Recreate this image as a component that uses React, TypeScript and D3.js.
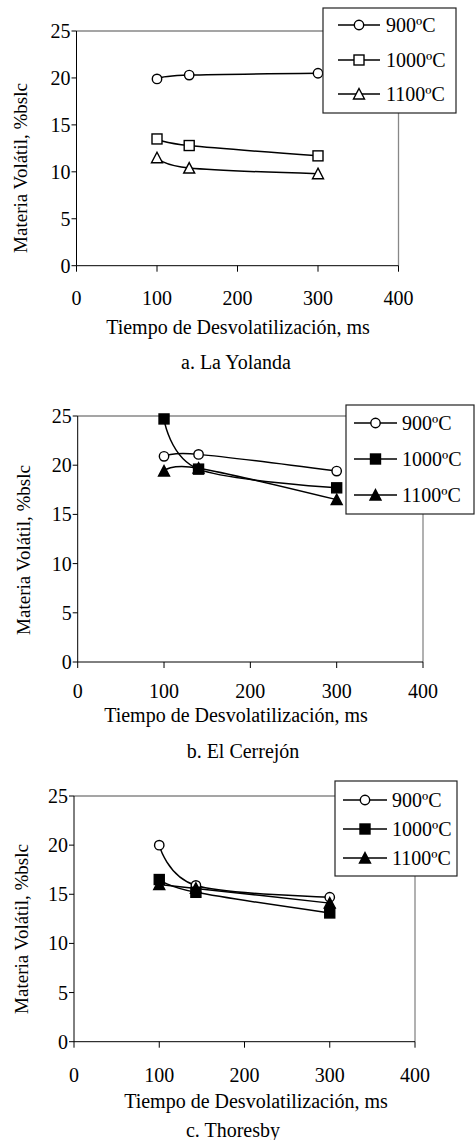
import React from "react";
import * as d3 from "d3";

// tiempos de desvolatilización (ms)
const times = [100, 140, 300];
const timesThoresby = [100, 143, 300];
const temps = ["900ºC", "1000ºC", "1100ºC"];

// materia volátil, %bslc
const yolanda900 = [19.9, 20.3, 20.5];
const yolanda1000 = [13.5, 12.8, 11.7];
const yolanda1100 = [11.5, 10.4, 9.8];
const cerrejon900 = [20.9, 21.1, 19.4];
const cerrejon1000 = [24.7, 19.6, 17.7];
const cerrejon1100 = [19.4, 19.7, 16.5];
const thoresby900 = [20.0, 15.9, 14.7];
const thoresby1000 = [16.5, 15.2, 13.1];
const thoresby1100 = [16.0, 15.6, 14.1];

const xTicks = [0, 100, 200, 300, 400];
const yTicks = [0, 5, 10, 15, 20, 25];
const xLabel = "Tiempo de Desvolatilización, ms";
const yLabel = "Materia Volátil, %bslc";

const FONT = "'Liberation Serif', 'Times New Roman', serif";

const panels = [
  {
    title: "a. La Yolanda", x: times, series: [yolanda900, yolanda1000, yolanda1100], filled: false,
    left: 76.5, right: 398.5, top: 31, bottom: 265.7,
    tickY: 305, labelY: 334, labelX: 238, titleY: 369, titleX: 236, yLabelX: 27, yLabelY: 168,
    legend: { x: 323, y: 8, w: 133, h: 105, rows: [25, 60, 94], lx0: 338, lx1: 380, tx: 386 },
  },
  {
    title: "b. El Cerrejón", x: times, series: [cerrejon900, cerrejon1000, cerrejon1100], filled: true,
    left: 77.7, right: 423, top: 416, bottom: 662,
    tickY: 698, labelY: 722, labelX: 236, titleY: 758, titleX: 243, yLabelX: 30, yLabelY: 550,
    legend: { x: 346, y: 405, w: 128, h: 109, rows: [423, 459, 495], lx0: 354, lx1: 397, tx: 402 },
  },
  {
    title: "c. Thoresby", x: timesThoresby, series: [thoresby900, thoresby1000, thoresby1100], filled: true,
    left: 74, right: 415, top: 796, bottom: 1041.7,
    tickY: 1082, labelY: 1108, labelX: 256, titleY: 1137, titleX: 233, yLabelX: 28, yLabelY: 929,
    legend: { x: 335, y: 781, w: 122, h: 95, rows: [800, 829, 858], lx0: 343, lx1: 387, tx: 392 },
  },
];

const Marker = ({ kind, filled, x, y }: { kind: number; filled: boolean; x: number; y: number }) => {
  const fill = filled && kind > 0 ? "#000" : "#fff";
  const common = { fill, stroke: "#000", strokeWidth: 1.4 };
  if (kind === 0) return <circle cx={x} cy={y} r={4.7} {...common} />;
  if (kind === 1) return <rect x={x - 5} y={y - 5} width={10} height={10} {...common} />;
  return <path d={`M${x},${y - 5.5}L${x + 5.5},${y + 5}L${x - 5.5},${y + 5}Z`} {...common} />;
};

const Panel = ({ p }: { p: (typeof panels)[number] }) => {
  const xs = d3.scaleLinear().domain([0, 400]).range([p.left, p.right]);
  const ys = d3.scaleLinear().domain([0, 25]).range([p.bottom, p.top]);
  const line = d3
    .line<number>()
    .x((_, i) => xs(p.x[i]))
    .y((d) => ys(d))
    .curve(d3.curveCardinal.tension(0));
  const lg = p.legend;

  return (
    <g>
      {/* marco */}
      <path
        d={`M${p.left},${p.top}H${p.right}V${p.bottom}`}
        fill="none"
        stroke="#888"
        strokeWidth={1.3}
      />
      <line x1={p.left} x2={p.left} y1={p.top} y2={p.bottom} stroke="#000" />
      <line x1={p.left} x2={p.right} y1={p.bottom} y2={p.bottom} stroke="#000" />
      {yTicks.map((t) => (
        <g key={t}>
          <line x1={p.left - 5} x2={p.left} y1={ys(t)} y2={ys(t)} stroke="#000" />
          <text x={p.left - 6} y={ys(t)} dy="0.35em" textAnchor="end" fontSize={20}>
            {t}
          </text>
        </g>
      ))}
      {xTicks.map((t) => (
        <g key={t}>
          <line x1={xs(t)} x2={xs(t)} y1={p.bottom} y2={p.bottom + 6} stroke="#000" />
          <text x={xs(t)} y={p.tickY} textAnchor="middle" fontSize={20}>
            {t}
          </text>
        </g>
      ))}
      <text x={p.labelX} y={p.labelY} textAnchor="middle" fontSize={20}>
        {xLabel}
      </text>
      <text x={p.titleX} y={p.titleY} textAnchor="middle" fontSize={20}>
        {p.title}
      </text>
      <text
        transform={`translate(${p.yLabelX},${p.yLabelY}) rotate(-90)`}
        textAnchor="middle"
        fontSize={19}
      >
        {yLabel}
      </text>

      {p.series.map((s, k) => (
        <path key={k} d={line(s) || ""} fill="none" stroke="#000" strokeWidth={1.5} />
      ))}
      {p.series.map((s, k) =>
        s.map((v, i) => <Marker key={`${k}-${i}`} kind={k} filled={p.filled} x={xs(p.x[i])} y={ys(v)} />)
      )}

      {/* leyenda */}
      <rect x={lg.x} y={lg.y} width={lg.w} height={lg.h} fill="#fff" stroke="#222" strokeWidth={1.2} />
      {temps.map((name, k) => (
        <g key={name}>
          <line x1={lg.lx0} x2={lg.lx1} y1={lg.rows[k]} y2={lg.rows[k]} stroke="#000" strokeWidth={1.5} />
          <Marker kind={k} filled={p.filled} x={(lg.lx0 + lg.lx1) / 2} y={lg.rows[k]} />
          <text x={lg.tx} y={lg.rows[k]} dy="0.35em" fontSize={20}>
            {name}
          </text>
        </g>
      ))}
    </g>
  );
};

export default function App() {
  return (
    <svg
      width={475}
      height={1140}
      style={{ position: "absolute", left: 0, top: 0, background: "#fff" }}
      fontFamily={FONT}
      fill="#000"
    >
      <rect width={475} height={1140} fill="#fff" />
      {panels.map((p) => (
        <Panel key={p.title} p={p} />
      ))}
    </svg>
  );
}
